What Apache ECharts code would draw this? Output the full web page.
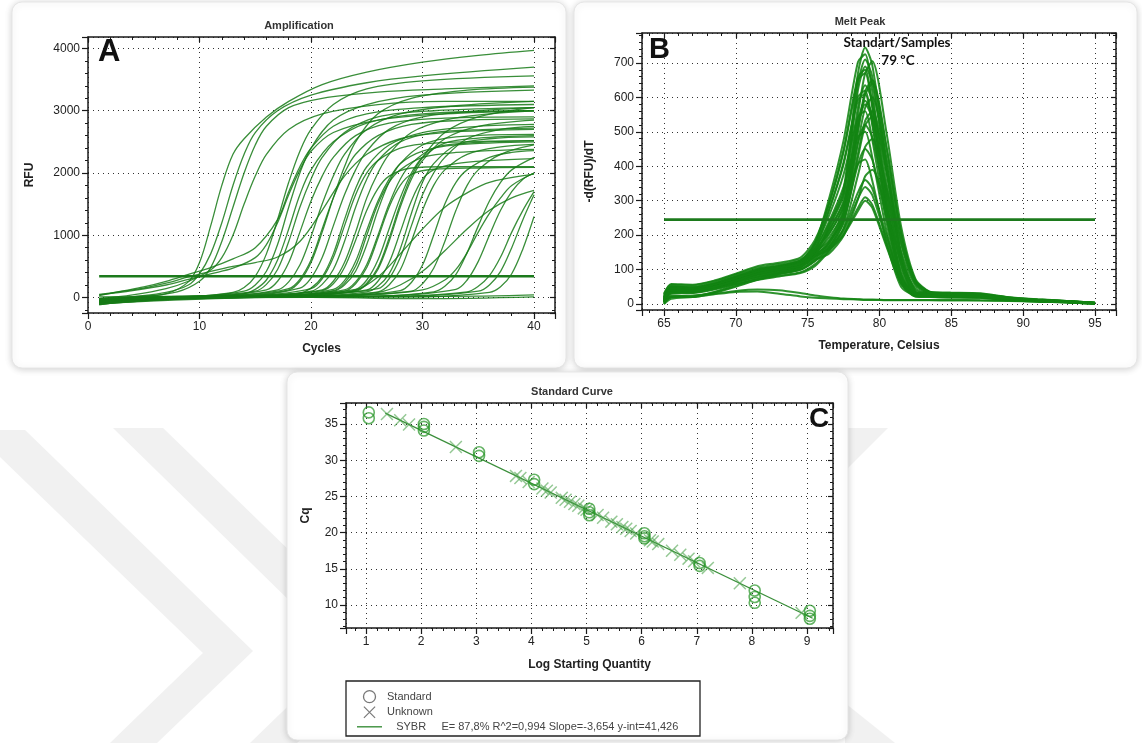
<!DOCTYPE html>
<html>
<head>
<meta charset="utf-8">
<script src="https://cdn.jsdelivr.net/npm/echarts@6/dist/echarts.min.js"></script>
<style>html,body{margin:0;padding:0;background:#fff;}#chart{width:1142px;height:743px;}</style>
</head>
<body>
<div id="chart"></div>
<script>
// ================= DATA =================
// Panel A: amplification curves, points [cycle, RFU]
const ampThreshold = 340;
const ampEarly = [
  [[1,-80],[4,0],[7,60],[9,250],[10,560],[11,1150],[12,1800],[13,2300],[14,2550],[16,2900],[18,3150],[21,3420],[25,3620],[30,3780],[35,3890],[40,3970]],
  [[1,-50],[4,10],[7,80],[9,200],[10,380],[11,700],[12,1200],[13,1800],[14,2300],[15,2650],[17,3000],[20,3250],[25,3450],[30,3560],[40,3700]],
  [[1,-30],[5,20],[8,90],[10,260],[11,480],[12,900],[13,1450],[14,2000],[15,2450],[16,2750],[18,3050],[21,3200],[26,3300],[32,3350],[40,3400]],
  [[1,30],[3,100],[5,170],[7,260],[9,370],[11,480],[13,620],[15,800],[17,1250],[18,1700],[19,2100],[20,2400],[22,2750],[25,2950],[30,3050],[40,3100]],
  [[1,-20],[4,40],[7,140],[9,260],[11,440],[12,640],[13,1000],[14,1500],[15,1950],[16,2300],[18,2700],[21,2950],[26,3100],[32,3150],[40,3150]],
  [[1,50],[4,120],[7,230],[9,330],[11,420],[13,500],[15,560],[17,650],[19,900],[21,1400],[23,1950],[25,2300],[28,2550],[32,2650],[40,2700]],
  [[1,40],[4,110],[7,200],[9,290],[11,380],[13,470],[15,640],[16,850],[17,1200],[18,1650],[19,2050],[20,2350],[22,2650],[26,2850],[32,2950],[40,3000]]
];
const ampMid = [
  [[1,-60],[6,0],[10,20],[13,80],[14,160],[15,340],[16,700],[17,1250],[18,1850],[19,2350],[20,2700],[22,3100],[25,3350],[30,3480],[40,3560]],
  [[1,-40],[6,0],[10,20],[14,100],[15,200],[16,420],[17,850],[18,1450],[19,2000],[20,2400],[22,2850],[25,3100],[30,3250],[40,3330]],
  [[1,-90],[6,-10],[10,10],[14,60],[15,130],[16,280],[17,600],[18,1100],[19,1650],[20,2050],[22,2500],[25,2800],[30,2950],[40,3000]],
  [[1,-20],[6,10],[11,30],[15,100],[16,210],[17,450],[18,900],[19,1450],[20,1900],[21,2250],[23,2650],[26,2900],[31,3000],[40,3050]],
  [[1,-70],[7,0],[12,30],[16,120],[17,260],[18,560],[19,1050],[20,1550],[21,1950],[22,2250],[24,2600],[27,2800],[32,2880],[40,2900]],
  [[1,-100],[8,0],[13,30],[17,120],[18,250],[19,520],[20,980],[21,1500],[22,1950],[23,2300],[25,2700],[28,2950],[33,3080],[40,3150]],
  [[1,-50],[8,10],[14,40],[18,140],[19,290],[20,600],[21,1100],[22,1600],[23,2000],[24,2300],[26,2600],[29,2780],[34,2850],[40,2870]],
  [[1,-40],[8,0],[14,30],[18,120],[19,260],[20,560],[21,1050],[22,1600],[23,2100],[24,2500],[26,2950],[29,3200],[34,3330],[40,3380]],
  [[1,-30],[8,0],[14,20],[19,150],[20,310],[21,640],[22,1150],[23,1650],[24,2050],[25,2350],[27,2700],[30,2900],[35,3000],[40,3050]],
  [[1,-20],[9,10],[15,30],[20,140],[21,300],[22,640],[23,1150],[24,1650],[25,2000],[26,2200],[28,2400],[31,2480],[40,2520]]
];
const ampLate = [
  [[1,-80],[9,0],[15,20],[19,70],[20,150],[21,330],[22,700],[23,1250],[24,1750],[25,2100],[27,2450],[30,2650],[35,2750],[40,2780]],
  [[1,-40],[9,10],[16,30],[20,100],[21,210],[22,450],[23,900],[24,1450],[25,1900],[26,2200],[28,2500],[31,2650],[36,2700],[40,2720]],
  [[1,-60],[9,0],[16,20],[21,120],[22,260],[23,560],[24,1050],[25,1600],[26,2000],[27,2300],[29,2650],[32,2850],[36,2950],[40,3000]],
  [[1,-20],[9,20],[16,40],[21,110],[22,220],[23,480],[24,920],[25,1400],[26,1750],[27,1950],[29,2080],[32,2100],[40,2100]],
  [[1,-110],[10,0],[17,20],[22,130],[23,270],[24,580],[25,1080],[26,1550],[27,1900],[28,2150],[30,2350],[33,2450],[40,2500]],
  [[1,-50],[10,10],[17,30],[22,100],[23,200],[24,420],[25,850],[26,1400],[27,1850],[28,2150],[30,2450],[33,2580],[40,2620]],
  [[1,-30],[10,10],[18,30],[22,110],[23,230],[24,500],[25,1000],[26,1500],[27,1850],[28,2050],[30,2250],[33,2330],[40,2380]],
  [[1,-70],[10,0],[18,20],[23,120],[24,250],[25,530],[26,1000],[27,1500],[28,1900],[29,2150],[31,2400],[34,2480],[40,2520]],
  [[1,-70],[10,0],[18,20],[23,100],[24,220],[25,480],[26,950],[27,1450],[28,1800],[29,1980],[31,2060],[35,2080],[40,2090]],
  [[1,10],[10,20],[19,40],[24,110],[25,230],[26,480],[27,950],[28,1500],[29,1950],[30,2250],[32,2650],[35,2900],[40,3050]],
  [[1,-30],[10,10],[18,30],[24,130],[25,280],[26,600],[27,1100],[28,1600],[29,2000],[30,2250],[32,2480],[35,2560],[40,2600]],
  [[1,-90],[10,0],[19,20],[24,100],[25,210],[26,450],[27,900],[28,1450],[29,1900],[30,2200],[32,2550],[35,2750],[40,2850]],
  [[1,-40],[11,10],[19,30],[25,120],[26,260],[27,560],[28,1050],[29,1550],[30,1900],[31,2050],[33,2150],[36,2200],[40,2230]],
  [[1,-60],[11,0],[20,20],[25,90],[26,180],[27,380],[28,780],[29,1350],[30,1850],[31,2150],[33,2450],[36,2550],[40,2580]],
  [[1,-20],[11,20],[20,40],[26,140],[27,300],[28,640],[29,1150],[30,1650],[31,2000],[32,2250],[34,2550],[37,2700],[40,2750]],
  [[1,-110],[11,0],[20,20],[26,90],[27,200],[28,440],[29,900],[30,1400],[31,1800],[32,2050],[34,2300],[37,2420],[40,2460]],
  [[1,-80],[12,0],[22,20],[28,110],[29,240],[30,520],[31,1000],[32,1500],[33,1850],[34,2050],[36,2250],[38,2330],[40,2360]],
  [[1,-40],[12,10],[22,30],[29,100],[30,220],[31,470],[32,900],[33,1400],[34,1800],[35,2050],[37,2300],[40,2450]]
];
const ampSlow = [
  [[1,-50],[12,0],[22,20],[26,80],[28,200],[30,420],[32,750],[34,1100],[36,1400],[38,1600],[40,1720]],
  [[1,-50],[10,0],[20,30],[24,120],[26,330],[28,700],[30,1100],[32,1450],[34,1680],[36,1850],[40,1980]],
  [[1,-30],[14,10],[24,30],[30,120],[32,280],[33,450],[34,720],[35,1050],[36,1350],[37,1600],[38,1800],[40,2000]],
  [[1,-60],[14,0],[26,20],[31,90],[32,180],[33,370],[34,720],[35,1150],[36,1550],[37,1850],[38,2050],[40,2250]],
  [[1,-20],[14,10],[27,30],[33,130],[34,280],[35,580],[36,1000],[37,1400],[38,1700],[39,1900],[40,2000]],
  [[1,-70],[15,0],[28,20],[34,90],[35,180],[36,350],[37,650],[38,1050],[39,1400],[40,1700]],
  [[1,-40],[15,10],[29,20],[35,100],[36,200],[37,420],[38,800],[39,1250],[40,1650]],
  [[1,-100],[16,0],[30,10],[36,80],[37,170],[38,380],[39,780],[40,1300]]
];
const ampFlat = [
  [[1,-120],[5,-30],[15,0],[25,10],[35,20],[40,40]],
  [[1,-60],[6,-10],[20,0],[30,-20],[40,10]]
];

// Panel B: melt peak curves, -d(RFU)/dT sampled at meltTemps
const meltThreshold = 245;
const meltTemps = [65,65.5,67,68.5,70,71.5,73,74.5,75.5,76.5,77.5,78.5,79,79.5,80.5,81.5,82.5,83.5,85,87,89,91,93,95];
const meltPeaks = [
  [20,50,48,60,80,100,112,125,160,234,334,670,745,693,410,149,40,32,30,28,18,12,8,3],
  [10,45,45,55,75,95,108,125,175,308,475,703,725,616,305,87,28,28,27,26,17,11,7,2],
  [25,52,50,62,82,102,110,125,150,185,276,550,670,705,494,226,73,36,31,29,19,13,9,4],
  [5,40,40,52,72,92,104,118,150,224,317,621,690,642,380,138,35,28,26,25,16,10,6,2],
  [15,48,46,58,78,98,110,126,178,291,442,650,670,570,281,80,28,30,29,27,17,11,8,3],
  [8,38,38,50,70,90,102,113,140,178,262,507,618,650,455,208,68,34,25,24,15,10,6,2],
  [18,46,44,56,76,96,108,120,153,214,301,571,635,590,349,127,32,29,27,26,16,11,7,3],
  [12,42,42,54,74,94,106,122,172,276,412,601,620,527,260,74,27,28,26,25,16,10,7,2],
  [22,50,47,58,78,97,108,120,146,172,250,468,570,600,420,192,64,34,28,27,17,12,8,4],
  [6,36,36,48,68,88,100,113,143,204,284,522,580,539,319,116,29,25,23,22,14,9,6,2],
  [14,44,42,54,72,92,104,120,168,258,376,543,560,476,235,67,27,27,25,24,15,10,7,3],
  [10,40,40,50,70,88,100,110,138,165,236,425,518,545,382,174,59,33,24,23,14,9,6,2],
  [16,45,43,55,74,93,105,118,147,194,266,468,520,484,286,104,28,26,25,24,15,10,7,3],
  [8,36,36,48,66,85,97,114,160,240,340,485,500,425,210,60,26,24,22,21,13,9,6,2],
  [20,48,45,56,75,94,105,116,140,158,220,374,456,480,336,154,53,32,26,25,16,11,8,3],
  [12,40,40,50,68,86,97,110,138,181,245,405,450,419,248,90,26,24,22,21,13,9,6,2],
  [5,32,33,45,63,80,92,108,150,216,292,407,420,357,176,50,25,23,21,20,12,8,5,1],
  [15,42,40,50,68,85,95,104,128,147,198,304,371,390,273,125,45,30,23,22,14,9,6,2],
  [8,35,35,46,62,78,88,100,125,165,218,324,360,335,198,72,24,22,20,19,12,8,5,1],
  [18,44,42,50,66,80,90,100,124,161,212,306,340,316,187,68,24,24,22,21,13,9,6,2],
  [6,30,32,42,58,72,82,92,115,156,203,279,310,288,171,62,22,20,19,18,11,7,5,1],
  [10,34,34,44,58,70,80,90,110,154,200,270,300,279,165,60,22,21,19,18,11,7,5,1],
  [0,25,22,35,55,75,90,108,140,228,323,639,710,660,391,142,34,26,24,22,14,9,6,2],
  [30,58,56,68,88,110,120,135,185,294,448,660,680,578,286,82,29,34,33,31,20,14,9,4],
  [2,22,20,32,50,70,86,100,130,177,260,499,608,640,448,205,68,34,26,24,15,10,6,2],
  [28,56,54,66,86,106,116,130,160,206,287,531,590,549,325,118,32,33,32,30,19,13,9,4],
  [4,20,22,34,52,72,88,106,158,273,406,592,610,519,256,73,27,24,22,21,13,9,6,2],
  [12,40,38,50,68,88,100,110,134,167,240,437,532,560,392,179,60,33,27,26,16,11,7,3]
];
const meltNegative = [
  [5,20,25,30,38,42,40,32,25,20,16,14,13,13,12,12,12,12,12,11,10,8,6,3],
  [0,15,20,28,35,36,30,22,18,16,14,13,12,12,11,11,11,11,10,10,9,7,5,2]
];

// Panel C: standard curve
const stdLog = [1.05,1.05,2.05,2.05,2.05,3.05,3.05,4.05,4.05,5.05,5.05,5.05,6.05,6.05,6.05,7.05,7.05,8.05,8.05,8.05,9.05,9.05,9.05];
const stdCq  = [36.6,35.8,35.0,34.6,34.1,31.1,30.6,27.3,26.7,23.3,22.8,22.4,19.9,19.5,19.2,15.8,15.4,12.0,11.1,10.3,9.2,8.5,8.1];
const unkLog = [1.38,1.62,1.78,2.63,3.72,3.80,3.95,4.20,4.28,4.35,4.55,4.62,4.70,4.78,4.85,4.95,5.00,5.20,5.30,5.45,5.55,5.65,5.72,5.80,5.90,6.15,6.20,6.30,6.55,6.70,6.85,6.95,7.20,7.78,8.90];
const unkCq  = [36.38,35.51,34.92,31.82,27.83,27.54,26.99,26.08,25.79,25.53,24.80,24.54,24.25,23.96,23.70,23.34,23.16,22.43,22.06,21.51,21.15,20.78,20.53,20.23,19.87,18.95,18.77,18.41,17.49,16.94,16.40,16.03,15.12,13.00,8.91];
const fitLog = [1.35, 9.1];
const fitCq  = [36.5, 8.17];
const fitLabel = 'E= 87,8% R^2=0,994 Slope=-3,654 y-int=41,426';

// ================= STYLE =================
const FONT = '"Liberation Sans", Arial, sans-serif';
const AX = '#1a1a1a';
const GREEN_LINE = 'rgba(22,122,22,0.85)';
const GREEN_MELT = 'rgba(18,132,18,0.88)';
const GREEN_THR = '#1c7a1c';
const plain = function (v) { return String(v); };

function bottomAxis(gi, min, max, split, name, gap, showMin, interval) {
  const a = {
    type: 'value', gridIndex: gi, min: min, max: max, position: 'bottom',
    splitNumber: split,
    axisLine: { show: true, onZero: false, lineStyle: { color: AX, width: 1.5 } },
    axisTick: { show: true, length: 6, lineStyle: { color: AX, width: 1.2 } },
    minorTick: { show: true, splitNumber: 5, length: 3, lineStyle: { color: AX, width: 1 } },
    axisLabel: { color: '#222', fontSize: 12, fontFamily: FONT, margin: 8, showMinLabel: showMin, showMaxLabel: false, formatter: plain },
    splitLine: { show: true, lineStyle: { type: [1, 4], color: '#333', width: 1 } },
    name: name, nameLocation: 'middle', nameGap: gap,
    nameTextStyle: { fontFamily: FONT, fontWeight: 'bold', fontSize: 12, color: '#222' }
  };
  if (interval) a.interval = interval;
  return a;
}
function topAxis(gi, min, max, split, interval) {
  const a = {
    type: 'value', gridIndex: gi, min: min, max: max, position: 'top', splitNumber: split,
    axisLine: { show: true, onZero: false, lineStyle: { color: AX, width: 1.5 } },
    axisTick: { show: true, inside: true, length: 5, lineStyle: { color: AX, width: 1.2 } },
    minorTick: { show: true, splitNumber: 5, length: 3, lineStyle: { color: AX, width: 1 } },
    axisLabel: { show: false }, splitLine: { show: false }
  };
  if (interval) a.interval = interval;
  return a;
}
function leftAxis(gi, min, max, split, name, gap) {
  return {
    type: 'value', gridIndex: gi, min: min, max: max, position: 'left', splitNumber: split,
    axisLine: { show: true, onZero: false, lineStyle: { color: AX, width: 1.5 } },
    axisTick: { show: true, length: 6, lineStyle: { color: AX, width: 1.2 } },
    minorTick: { show: true, splitNumber: 5, length: 3, lineStyle: { color: AX, width: 1 } },
    axisLabel: { color: '#222', fontSize: 12, fontFamily: FONT, margin: 8, showMinLabel: false, showMaxLabel: false, formatter: plain },
    splitLine: { show: true, lineStyle: { type: [1, 4], color: '#333', width: 1 } },
    name: name, nameLocation: 'middle', nameGap: gap, nameRotate: 90,
    nameTextStyle: { fontFamily: FONT, fontWeight: 'bold', fontSize: 12, color: '#222' }
  };
}
function rightAxis(gi, min, max, split) {
  return {
    type: 'value', gridIndex: gi, min: min, max: max, position: 'right', splitNumber: split,
    axisLine: { show: true, onZero: false, lineStyle: { color: AX, width: 1.5 } },
    axisTick: { show: true, inside: true, length: 5, lineStyle: { color: AX, width: 1.2 } },
    minorTick: { show: true, splitNumber: 5, length: 3, lineStyle: { color: AX, width: 1 } },
    axisLabel: { show: false }, splitLine: { show: false }
  };
}

// ================= SERIES =================
const series = [];
function lineSeries(data, xi, yi, color, width, smooth, z) {
  return { type: 'line', xAxisIndex: xi, yAxisIndex: yi, data: data, smooth: smooth,
    showSymbol: false, symbol: 'none', silent: true, z: z || 3,
    lineStyle: { color: color, width: width } };
}
[ampEarly, ampMid, ampLate, ampSlow, ampFlat].forEach(function (grp) {
  grp.forEach(function (c) { series.push(lineSeries(c, 0, 0, GREEN_LINE, 1.3, 0.35)); });
});
series.push(lineSeries([[1, ampThreshold], [40, ampThreshold]], 0, 0, GREEN_THR, 2.6, false, 4));

meltPeaks.concat(meltNegative).forEach(function (c) {
  series.push(lineSeries(meltTemps.map(function (t, i) { return [t, c[i]]; }), 2, 2, GREEN_MELT, 2, 0.25));
});
series.push(lineSeries([[65, meltThreshold], [95, meltThreshold]], 2, 2, GREEN_THR, 2.6, false, 4));

const xSym = 'path://M0.8,0 L5,4.2 L9.2,0 L10,0.8 L5.8,5 L10,9.2 L9.2,10 L5,5.8 L0.8,10 L0,9.2 L4.2,5 L0,0.8 Z';
series.push({ name: 'SYBR', type: 'line', xAxisIndex: 4, yAxisIndex: 4,
  data: fitLog.map(function (x, i) { return [x, fitCq[i]]; }),
  showSymbol: false, symbol: 'none', silent: true, z: 3,
  lineStyle: { color: '#3b8f3b', width: 1.3 } });
series.push({ name: 'Unknown', type: 'scatter', xAxisIndex: 4, yAxisIndex: 4,
  data: unkLog.map(function (x, i) { return [x, unkCq[i]]; }),
  symbol: xSym, symbolSize: 13, silent: true, z: 4,
  itemStyle: { color: 'rgba(70,160,70,0.72)' } });
series.push({ name: 'Standard', type: 'scatter', xAxisIndex: 4, yAxisIndex: 4,
  data: stdLog.map(function (x, i) { return [x, stdCq[i]]; }),
  symbol: 'circle', symbolSize: 11, silent: true, z: 5,
  itemStyle: { color: 'rgba(0,0,0,0)', borderColor: 'rgba(40,150,40,0.9)', borderWidth: 1.6 } });

// ================= GRAPHIC =================
const WM = '#f1f1f1';
const legendX = 'path://M0,6 L0.01,6 L0,6.01 Z M25,6 L24.99,6 L25,6.01 Z M6.5,0.8 L7.3,0 L18.5,11.2 L17.7,12 Z M7.3,12 L6.5,11.2 L17.7,0 L18.5,0.8 Z';
function panel(x, y, w, h) {
  return { type: 'rect', z: -10, shape: { x: x, y: y, width: w, height: h, r: 10 },
    style: { fill: '#fff', stroke: '#e6e6e6', lineWidth: 1, shadowBlur: 7, shadowOffsetY: 1, shadowColor: 'rgba(0,0,0,0.18)' } };
}
function label(text, x, y, font, align) {
  return { type: 'text', z: 100, x: x, y: y,
    style: { text: text, font: font, fill: '#111', textAlign: align || 'left', align: align || 'left',
      textVerticalAlign: 'middle', verticalAlign: 'middle' } };
}
const graphics = [
  { type: 'polygon', z: -20, shape: { points: [[0,430],[25,430],[253,651],[157,743],[110,743],[203,653],[0,457]] }, style: { fill: WM } },
  { type: 'polygon', z: -20, shape: { points: [[113,428],[163,428],[393,651],[297,743],[250,743],[343,653]] }, style: { fill: WM } },
  { type: 'polygon', z: -20, shape: { points: [[845,428],[888,428],[845,471]] }, style: { fill: WM } },
  { type: 'polygon', z: -20, shape: { points: [[845,703],[895,743],[845,743]] }, style: { fill: WM } },
  panel(12, 2, 554, 366),
  panel(574, 2, 563, 366),
  panel(287, 372, 561, 368),
  label('A', 98, 52, 'bold 31px ' + FONT),
  label('B', 649, 50, 'bold 29px ' + FONT),
  label('C', 809, 419, 'bold 28px ' + FONT),
  label('Standart/Samples', 897, 43, 'bold 13.5px Lato, "Open Sans", sans-serif', 'center'),
  label('79 ºC', 898, 61, 'bold 13.5px Lato, "Open Sans", sans-serif', 'center'),
  { type: 'rect', z: 50, shape: { x: 346, y: 681, width: 354, height: 55 },
    style: { fill: 'rgba(0,0,0,0)', stroke: '#222', lineWidth: 1.3 } }
];

// ================= OPTION =================
const option = {
  backgroundColor: '#ffffff',
  animation: false,
  title: [
    { text: 'Amplification', left: 294, top: 15, textAlign: 'center', textStyle: { fontFamily: FONT, fontSize: 11, fontWeight: 'bold', color: '#333' } },
    { text: 'Melt Peak', left: 855, top: 11, textAlign: 'center', textStyle: { fontFamily: FONT, fontSize: 11, fontWeight: 'bold', color: '#333' } },
    { text: 'Standard Curve', left: 567, top: 381, textAlign: 'center', textStyle: { fontFamily: FONT, fontSize: 11, fontWeight: 'bold', color: '#333' } }
  ],
  grid: [
    { left: 88, top: 37, width: 467, height: 276 },
    { left: 642, top: 33, width: 474, height: 277 },
    { left: 346, top: 403, width: 487, height: 225 }
  ],
  xAxis: [
    bottomAxis(0, 0, 41.88, 4, 'Cycles', 30, true, 10),
    topAxis(0, 0, 41.88, 4, 10),
    bottomAxis(1, 63.47, 96.46, 6, 'Temperature, Celsius', 30, false),
    topAxis(1, 63.47, 96.46, 6),
    bottomAxis(2, 0.637, 9.47, 9, 'Log Starting Quantity', 31, false),
    topAxis(2, 0.637, 9.47, 9)
  ],
  yAxis: [
    leftAxis(0, -250, 4185, 4, 'RFU', 52),
    rightAxis(0, -250, 4185, 4),
    leftAxis(1, -17.4, 787, 8, '-d(RFU)/dT', 46),
    rightAxis(1, -17.4, 787, 8),
    leftAxis(2, 6.82, 37.9, 6, 'Cq', 34),
    rightAxis(2, 6.82, 37.9, 6)
  ],
  legend: {
    orient: 'vertical', left: 352, top: 685, itemGap: 3, itemWidth: 25, itemHeight: 12,
    selectedMode: false,
    textStyle: { fontFamily: FONT, fontSize: 11, color: '#444' },
    formatter: function (n) { return n === 'SYBR' ? '   SYBR     ' + fitLabel : n; },
    data: [
      { name: 'Standard', icon: 'circle', itemStyle: { color: 'rgba(0,0,0,0)', borderColor: '#555', borderWidth: 1.3 } },
      { name: 'Unknown', icon: legendX, itemStyle: { color: '#555' } },
      { name: 'SYBR', icon: 'path://M0,5.3 L25,5.3 L25,6.7 L0,6.7 Z', itemStyle: { color: '#3b8f3b' } }
    ]
  },
  graphic: { elements: graphics },
  series: series
};

const chart = echarts.init(document.getElementById('chart'), null, { renderer: 'canvas' });
chart.setOption(option);
</script>
</body>
</html>
